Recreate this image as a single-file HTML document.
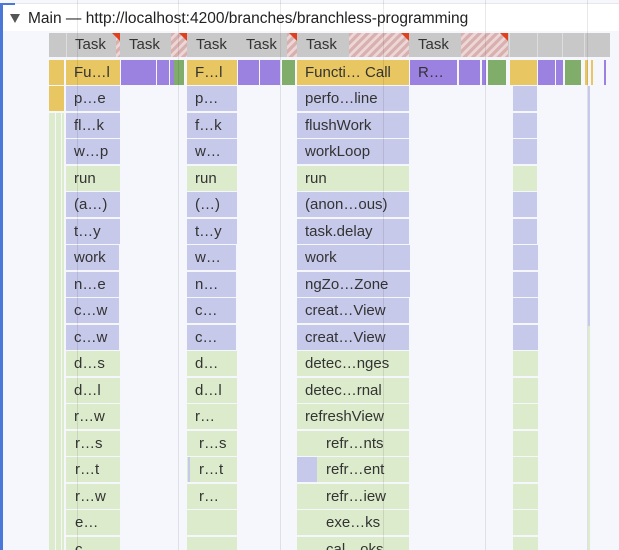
<!DOCTYPE html>
<html style="width:619px;height:550px;overflow:hidden"><head><meta charset="utf-8"><style>
html,body{margin:0;width:619px;height:550px;overflow:hidden}
body{background:#f5f7fd;font-family:"Liberation Sans","DejaVu Sans",sans-serif;position:relative}
div{position:absolute;box-sizing:border-box}
.b{height:25px;line-height:25px;font-size:15px;color:#333;padding-left:8px;white-space:nowrap;overflow:hidden}
.p{background:#c6c9ea}.g{background:#dcebcb}.y{background:#e8c662}.dp{background:#9b82e0}.dg{background:#80ad6a}
.t{top:33px;height:24px;background:#c8c8c8;line-height:24px;font-size:15px;color:#333;padding-left:8px}
.h{top:33px;height:24px;background:repeating-linear-gradient(135deg,#d9b0b0 0 3px,#ecd6d6 3px 6px)}
.tri{top:33px;width:0;height:0;border-top:8px solid #e0401e;border-left:8px solid transparent}
.v{top:0;width:1px;height:550px;background:rgba(0,0,0,0.09)}
.last{height:13.5px !important}
</style></head><body>
<div style="left:0;top:3px;width:619px;height:28px;background:#fff;border-top:1px solid #e8e8e8"></div>
<div style="left:0;top:3px;width:3px;height:547px;background:#4a78d8"></div>
<div style="left:0;top:3px;width:15px;height:2px;background:#4a78d8"></div>
<div style="left:10px;top:14px;width:0;height:0;border-left:5px solid transparent;border-right:5px solid transparent;border-top:9px solid #555"></div>
<div style="left:28px;top:8px;font-size:15.5px;color:#222;line-height:22px;white-space:nowrap">Main — http://localhost:4200/branches/branchless-programming</div>

<div class="t" style="left:49px;width:561px;padding:0"></div>
<div class="t" style="left:66px;width:54px;border-left:1px solid #ddd">Task</div>
<div class="h" style="left:116px;width:4px"></div><div class="tri" style="left:112px"></div>
<div class="t" style="left:121px;width:66px">Task</div>
<div class="h" style="left:171px;width:16px"></div><div class="tri" style="left:179px"></div>
<div class="t" style="left:188px;width:49px">Task</div>
<div class="t" style="left:238px;width:59px">Task</div>
<div class="h" style="left:287px;width:10px"></div><div class="tri" style="left:289px"></div>
<div class="t" style="left:298px;width:111px">Task</div>
<div class="h" style="left:349px;width:60px"></div><div class="tri" style="left:401px"></div>
<div class="t" style="left:410px;width:98px">Task</div>
<div class="h" style="left:461px;width:47px"></div><div class="tri" style="left:500px"></div>
<div style="left:509px;top:33px;width:1px;height:24px;background:#ddd"></div>
<div style="left:537px;top:33px;width:1px;height:24px;background:#ddd"></div>
<div style="left:562px;top:33px;width:1px;height:24px;background:#ddd"></div>
<div style="left:584px;top:33px;width:1px;height:24px;background:#ddd"></div>

<div class="b y" style="left:49px;top:59.5px;width:15px"></div>
<div class="b y" style="left:66px;top:59.5px;width:54px">Fu…l</div>
<div class="b dp" style="left:121px;top:59.5px;width:35px"></div>
<div class="b dp" style="left:157px;top:59.5px;width:12px"></div>
<div class="b dp" style="left:170px;top:59.5px;width:3px"></div>
<div class="b dg" style="left:174px;top:59.5px;width:10px;padding:0"></div>
<div class="b y" style="left:187px;top:59.5px;width:50px">F…l</div>
<div class="b dp" style="left:238px;top:59.5px;width:21px"></div>
<div class="b dp" style="left:260px;top:59.5px;width:20px"></div>
<div class="b dg" style="left:282px;top:59.5px;width:13px;padding:0"></div>
<div class="b y" style="left:297px;top:59.5px;width:112px">Functi… Call</div>
<div class="b dp" style="left:410px;top:59.5px;width:47px">R…</div>
<div class="b dp" style="left:459px;top:59.5px;width:21px"></div>
<div class="b dp" style="left:482px;top:59.5px;width:4px;padding:0"></div>
<div class="b dg" style="left:488px;top:59.5px;width:18px;padding:0"></div>
<div class="b y" style="left:510px;top:59.5px;width:27px"></div>
<div class="b dp" style="left:538px;top:59.5px;width:17px"></div>
<div class="b dp" style="left:556px;top:59.5px;width:7px;padding:0"></div>
<div class="b dg" style="left:565px;top:59.5px;width:16px;padding:0"></div>
<div class="b y" style="left:585px;top:59.5px;width:3px;padding:0"></div>
<div class="b y" style="left:591px;top:59.5px;width:2px;padding:0"></div>
<div class="b dp" style="left:604px;top:59.5px;width:2px;padding:0"></div>

<div class="y" style="left:49px;top:86px;width:15px;height:25px"></div>
<div class="g" style="left:49px;top:112.5px;width:15px;height:437.5px"></div>
<div style="left:55px;top:112px;width:1px;height:438px;background:#f5f7fd"></div>
<div style="left:61px;top:112px;width:1px;height:438px;background:#f5f7fd"></div>

<div class="b p" style="left:66px;top:86px;width:54px">p…e</div>
<div class="b p" style="left:66px;top:112.5px;width:54px">fl…k</div>
<div class="b p" style="left:66px;top:139px;width:54px">w…p</div>
<div class="b g" style="left:66px;top:165.5px;width:54px">run</div>
<div class="b p" style="left:66px;top:192px;width:54px">(a…)</div>
<div class="b p" style="left:66px;top:218.5px;width:54px">t…y</div>
<div class="b p" style="left:66px;top:245px;width:53px">work</div>
<div class="b p" style="left:66px;top:271.5px;width:53px">n…e</div>
<div class="b p" style="left:66px;top:298px;width:53px">c…w</div>
<div class="b p" style="left:66px;top:324.5px;width:53px">c…w</div>
<div class="b g" style="left:66px;top:351px;width:54px">d…s</div>
<div class="b g" style="left:66px;top:377.5px;width:54px">d…l</div>
<div class="b g" style="left:66px;top:404px;width:54px">r…w</div>
<div class="b g" style="left:66px;top:430.5px;width:54px;padding-left:9px">r…s</div>
<div class="b g" style="left:66px;top:457px;width:54px;padding-left:9px">r…t</div>
<div class="b g" style="left:66px;top:483.5px;width:54px;padding-left:9px">r…w</div>
<div class="b g" style="left:66px;top:510px;width:54px;padding-left:9px">e…</div>
<div class="b g last" style="left:66px;top:536.5px;width:54px;padding-left:9px">c…</div>

<div class="b p" style="left:187px;top:86px;width:50px">p…</div>
<div class="b p" style="left:187px;top:112.5px;width:50px">f…k</div>
<div class="b p" style="left:187px;top:139px;width:50px">w…</div>
<div class="b g" style="left:187px;top:165.5px;width:50px">run</div>
<div class="b p" style="left:187px;top:192px;width:50px">(…)</div>
<div class="b p" style="left:187px;top:218.5px;width:50px">t…y</div>
<div class="b p" style="left:187px;top:245px;width:49px">w…</div>
<div class="b p" style="left:187px;top:271.5px;width:49px">n…</div>
<div class="b p" style="left:187px;top:298px;width:49px">c…</div>
<div class="b p" style="left:187px;top:324.5px;width:49px">c…</div>
<div class="b g" style="left:187px;top:351px;width:50px">d…</div>
<div class="b g" style="left:187px;top:377.5px;width:50px">d…l</div>
<div class="b g" style="left:187px;top:404px;width:50px">r…</div>
<div class="b g" style="left:187px;top:430.5px;width:50px;padding-left:12px">r…s</div>
<div class="b g" style="left:187px;top:457px;width:50px;padding-left:12px">r…t</div>
<div class="p" style="left:188px;top:457px;width:2px;height:25px"></div>
<div class="b g" style="left:187px;top:483.5px;width:50px;padding-left:12px">r…</div>
<div class="b g" style="left:187px;top:510px;width:50px"></div>
<div class="b g last" style="left:187px;top:536.5px;width:50px"></div>

<div class="b p" style="left:297px;top:86px;width:112px">perfo…line</div>
<div class="b p" style="left:297px;top:112.5px;width:112px">flushWork</div>
<div class="b p" style="left:297px;top:139px;width:112px">workLoop</div>
<div class="b g" style="left:297px;top:165.5px;width:112px">run</div>
<div class="b p" style="left:297px;top:192px;width:112px">(anon…ous)</div>
<div class="b p" style="left:297px;top:218.5px;width:112px">task.delay</div>
<div class="b p" style="left:297px;top:245px;width:113px">work</div>
<div class="b p" style="left:297px;top:271.5px;width:113px">ngZo…Zone</div>
<div class="b p" style="left:297px;top:298px;width:112px">creat…View</div>
<div class="b p" style="left:297px;top:324.5px;width:112px">creat…View</div>
<div class="b g" style="left:297px;top:351px;width:112px">detec…nges</div>
<div class="b g" style="left:297px;top:377.5px;width:112px">detec…rnal</div>
<div class="b g" style="left:297px;top:404px;width:112px">refreshView</div>
<div class="b g" style="left:297px;top:430.5px;width:112px;padding-left:29px">refr…nts</div>
<div class="b g" style="left:297px;top:457px;width:112px;padding-left:29px">refr…ent</div>
<div class="p" style="left:297px;top:457px;width:20px;height:25px"></div>
<div class="b g" style="left:297px;top:483.5px;width:112px;padding-left:29px">refr…iew</div>
<div class="b g" style="left:297px;top:510px;width:112px;padding-left:29px">exe…ks</div>
<div class="b g last" style="left:297px;top:536.5px;width:112px;padding-left:29px">cal…oks</div>

<div class="p" style="left:513px;top:86px;width:24px;height:25px"></div>
<div class="p" style="left:513px;top:112.5px;width:24px;height:25px"></div>
<div class="p" style="left:513px;top:139px;width:24px;height:25px"></div>
<div class="g" style="left:513px;top:165.5px;width:24px;height:25px"></div>
<div class="p" style="left:513px;top:192px;width:24px;height:25px"></div>
<div class="p" style="left:513px;top:218.5px;width:24px;height:25px"></div>
<div class="p" style="left:513px;top:245px;width:25px;height:25px"></div>
<div class="p" style="left:513px;top:271.5px;width:25px;height:25px"></div>
<div class="p" style="left:513px;top:298px;width:25px;height:25px"></div>
<div class="p" style="left:513px;top:324.5px;width:25px;height:25px"></div>
<div class="g" style="left:513px;top:351px;width:25px;height:25px"></div>
<div class="g" style="left:513px;top:377.5px;width:25px;height:25px"></div>
<div class="g" style="left:513px;top:404px;width:25px;height:25px"></div>
<div class="g" style="left:513px;top:430.5px;width:25px;height:25px"></div>
<div class="g" style="left:513px;top:457px;width:25px;height:25px"></div>
<div class="g" style="left:513px;top:483.5px;width:25px;height:25px"></div>
<div class="g" style="left:513px;top:510px;width:25px;height:25px"></div>
<div class="g" style="left:513px;top:536.5px;width:25px;height:13.5px"></div>
<div class="p" style="left:588px;top:86px;width:2px;height:240px"></div>
<div class="g" style="left:588px;top:326px;width:2px;height:224px"></div>

<div class="v" style="left:77px"></div>
<div class="v" style="left:178px"></div>
<div class="v" style="left:280px"></div>
<div class="v" style="left:383px"></div>
<div class="v" style="left:485px"></div>
<div class="v" style="left:587px"></div>
</body></html>
